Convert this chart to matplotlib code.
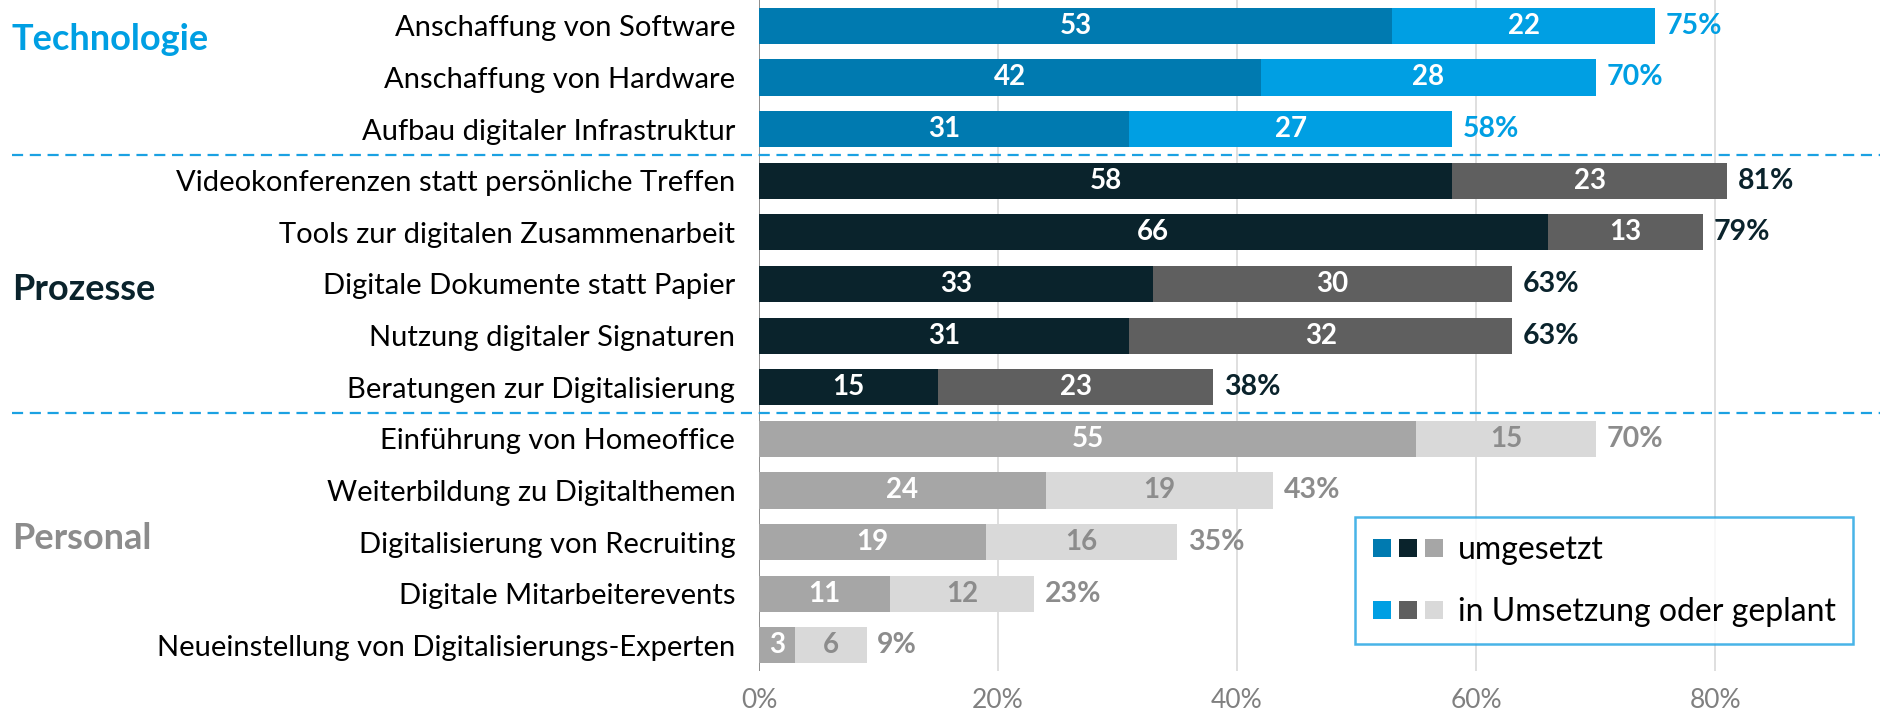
import matplotlib
matplotlib.use("Agg")
import matplotlib.pyplot as plt
from matplotlib.lines import Line2D
from matplotlib.legend_handler import HandlerTuple

plt.rcParams['font.family'] = ['Lato', 'DejaVu Sans']

categories = [
    "Anschaffung von Software",
    "Anschaffung von Hardware",
    "Aufbau digitaler Infrastruktur",
    "Videokonferenzen statt persönliche Treffen",
    "Tools zur digitalen Zusammenarbeit",
    "Digitale Dokumente statt Papier",
    "Nutzung digitaler Signaturen",
    "Beratungen zur Digitalisierung",
    "Einführung von Homeoffice",
    "Weiterbildung zu Digitalthemen",
    "Digitalisierung von Recruiting",
    "Digitale Mitarbeiterevents",
    "Neueinstellung von Digitalisierungs-Experten",
]
groups = ["Technologie"] * 3 + ["Prozesse"] * 5 + ["Personal"] * 5
umgesetzt = [53, 42, 31, 58, 66, 33, 31, 15, 55, 24, 19, 11, 3]
geplant = [22, 28, 27, 23, 13, 30, 32, 23, 15, 19, 16, 12, 6]
totals = [75, 70, 58, 81, 79, 63, 63, 38, 70, 43, 35, 23, 9]
group_names = ["Technologie", "Prozesse", "Personal"]
xticks = [0, 20, 40, 60, 80]

style = {
    "Technologie": dict(c1="#007AB0", c2="#009FE3", lab1="white", lab2="white", tot="#009FE3", grp="#009FE3"),
    "Prozesse": dict(c1="#0A232C", c2="#5F5F5F", lab1="white", lab2="white", tot="#0A232C", grp="#0A232C"),
    "Personal": dict(c1="#A6A6A6", c2="#D9D9D9", lab1="white", lab2="#8C8C8C", tot="#8C8C8C", grp="#8C8C8C"),
}

fig = plt.figure(figsize=(18.87, 7.14), dpi=100)
ax = fig.add_axes([0.4022, 0.060, 0.5941, 0.940])

ypos = list(range(len(categories)))
h = 0.70
for i, (cat, g, u, p, t) in enumerate(zip(categories, groups, umgesetzt, geplant, totals)):
    s = style[g]
    ax.barh(i, u, height=h, color=s["c1"], edgecolor="none", zorder=2)
    ax.barh(i, p, left=u, height=h, color=s["c2"], edgecolor="none", zorder=2)
    ax.text(u / 2, i, str(u), ha="center", va="center", color=s["lab1"],
            fontsize=20, fontweight="bold", zorder=3)
    ax.text(u + p / 2, i, str(p), ha="center", va="center", color=s["lab2"],
            fontsize=20, fontweight="bold", zorder=3)
    ax.text(t + 0.9, i, f"{t}%", ha="left", va="center", color=s["tot"],
            fontsize=20.5, fontweight="bold", zorder=3)

ax.set_ylim(len(categories) - 0.5, -0.5)
ax.set_xlim(0, 93.8)
ax.set_yticks(ypos)
ax.set_yticklabels(categories, fontsize=21, color="black")
ax.tick_params(axis="y", length=0, pad=17)
ax.set_xticks(xticks)
ax.set_xticklabels([f"{x}%" for x in xticks], fontsize=19, color="#808080")
ax.tick_params(axis="x", length=0, pad=12)
for sp in ax.spines.values():
    sp.set_visible(False)
ax.grid(axis="x", color="#D9D9D9", linewidth=1.2, zorder=0)
ax.set_axisbelow(True)
ax.axvline(0, color="#808080", linewidth=1.2, zorder=1)

# group separators and labels
trans = ax.get_yaxis_transform()
x_left = (12 - 759) / (0.5941 * 1887)
for sep in [2.5, 7.5]:
    ax.plot([x_left, 1.0], [sep, sep], transform=trans, color="#1BA1E2",
            linestyle=(0, (5, 3)), linewidth=1.6, clip_on=False, zorder=4)

group_y = {"Technologie": 0.26, "Prozesse": 5.1, "Personal": 9.93}
for g in group_names:
    ax.text(x_left, group_y[g], g, transform=trans, ha="left", va="center",
            fontsize=26, fontweight="bold", color=style[g]["grp"])

# legend
sq = dict(marker="s", linestyle="none", markersize=12.5, markeredgewidth=0)
h1 = tuple(Line2D([], [], color=style[g]["c1"], **sq) for g in group_names)
h2 = tuple(Line2D([], [], color=style[g]["c2"], **sq) for g in group_names)
leg = ax.legend([h1, h2], ["umgesetzt", "in Umsetzung oder geplant"],
                handler_map={tuple: HandlerTuple(ndivide=None, pad=0.25)},
                loc="lower right", bbox_to_anchor=(0.976, 0.040),
                fontsize=23, frameon=True, fancybox=False,
                handlelength=2.2, handletextpad=0.45, labelspacing=1.0,
                borderpad=0.55, borderaxespad=0)
leg.get_frame().set_edgecolor("#1BA1E2")
leg.get_frame().set_linewidth(1.8)

fig.savefig("out.png", dpi=100)
